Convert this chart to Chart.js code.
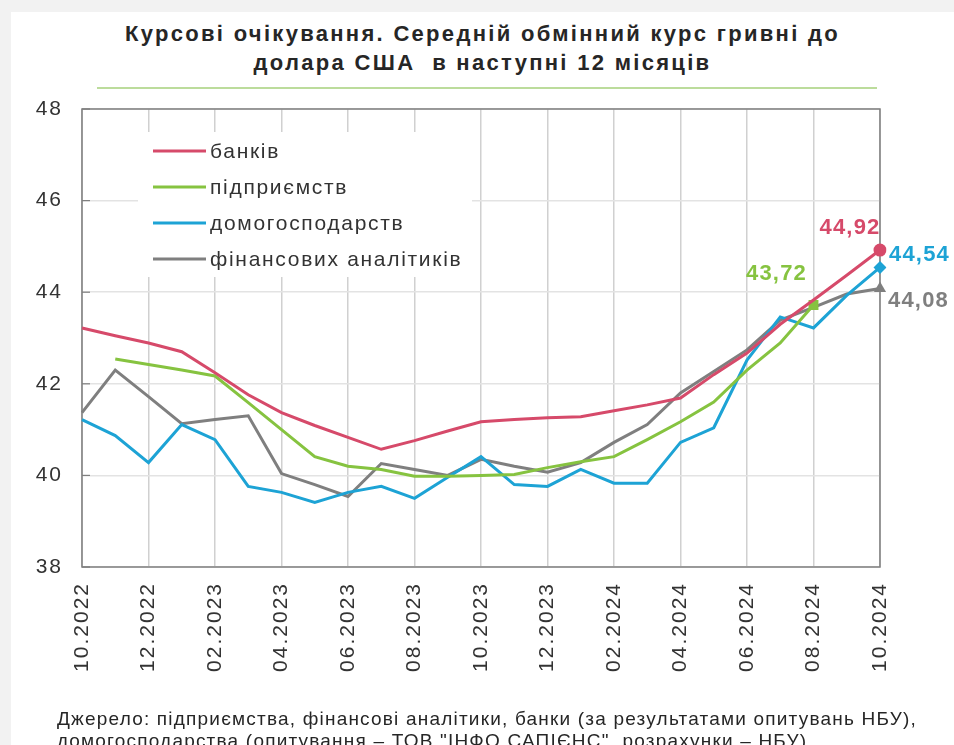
<!DOCTYPE html>
<html>
<head>
<meta charset="utf-8">
<script src="https://cdn.jsdelivr.net/npm/chart.js@4/dist/chart.umd.min.js"></script>
<style>
  html, body { margin:0; padding:0; }
  body { width:954px; height:745px; background:#f2f2f2; position:relative; overflow:hidden; font-family:"Liberation Sans", Arial, sans-serif; }
  #panel { position:absolute; left:11px; top:12px; right:0; bottom:0; background:#fff; }
  #title { position:absolute; left:11px; width:943px; top:19px; text-align:center; font-weight:bold; font-size:22px; line-height:29px; letter-spacing:2.3px; color:#262626; }
  #rule { position:absolute; left:97px; width:780px; top:87px; height:2px; background:#bcdc9c; }
  #src { position:absolute; left:57px; top:708px; font-size:19px; line-height:22px; letter-spacing:1.2px; color:#262626; white-space:nowrap; }
  #wrap { position:absolute; left:0; top:0; width:954px; height:745px; }
</style>
</head>
<body>
<div id="panel"></div>
<div id="title">Курсові очікування. Середній обмінний курс гривні до<br>долара США&nbsp; в наступні 12 місяців</div>
<div id="rule"></div>
<div id="wrap"><canvas id="c" width="954" height="745"></canvas></div>
<div id="src">Джерело: підприємства, фінансові аналітики, банки (за результатами опитувань НБУ),<br>домогосподарства (опитування – ТОВ "ІНФО САПІЄНС", розрахунки – НБУ).</div>
<script>
// Categories (months 10.2022 .. 10.2024)
const months = ['10.2022','11.2022','12.2022','01.2023','02.2023','03.2023','04.2023','05.2023','06.2023','07.2023','08.2023','09.2023','10.2023','11.2023','12.2023','01.2024','02.2024','03.2024','04.2024','05.2024','06.2024','07.2024','08.2024','09.2024','10.2024'];
// Series
const banks      = [43.22, 43.05, 42.89, 42.70, 42.24, 41.76, 41.37, 41.09, 40.83, 40.57, 40.76, 40.97, 41.17, 41.22, 41.26, 41.28, 41.41, 41.54, 41.69, 42.20, 42.67, 43.30, 43.83, 44.37, 44.92];
const enterprises= [null, 42.54, 42.42, 42.30, 42.17, 41.59, 41.00, 40.41, 40.20, 40.13, 39.98, 39.98, 40.00, 40.02, 40.17, 40.30, 40.41, 40.78, 41.17, 41.60, 42.30, 42.89, 43.72, null, null];
const households = [41.22, 40.87, 40.28, 41.11, 40.78, 39.76, 39.63, 39.41, 39.63, 39.76, 39.50, 39.96, 40.41, 39.80, 39.76, 40.13, 39.83, 39.83, 40.72, 41.04, 42.52, 43.46, 43.22, 43.93, 44.54];
const analysts   = [41.37, 42.30, 41.72, 41.13, 41.22, 41.30, 40.04, 39.80, 39.54, 40.26, 40.13, 40.00, 40.35, 40.20, 40.07, 40.28, 40.72, 41.11, 41.80, 42.27, 42.74, 43.39, 43.67, 43.96, 44.08];
const seriesNames = ['банків','підприємств','домогосподарств','фінансових аналітиків'];
// Y axis ticks
const yTicks = [38, 40, 42, 44, 46, 48];

const colors = { red:'#d64a6a', green:'#86c340', blue:'#1da3d5', gray:'#7f7f7f' };

function lastIdx(arr){ for (let i=arr.length-1;i>=0;i--) if (arr[i]!==null) return i; return -1; }

function mkDs(label, data, color, style, radius, lab){
  const li = lastIdx(data);
  return {
    label, data, borderColor: color, backgroundColor: color, borderWidth: 3,
    pointStyle: style,
    pointRadius: c => c.dataIndex === li ? radius : 0,
    pointHoverRadius: 0,
    pointBorderWidth: 0,
    tension: 0, spanGaps: false,
    endLabel: lab
  };
}

const datasets = [
  mkDs(seriesNames[0], banks, colors.red, 'circle', 6.5, {dx:-30, dy:-22, align:'center'}),
  mkDs(seriesNames[1], enterprises, colors.green, 'rect', 7, {dx:-37, dy:-31, align:'center'}),
  mkDs(seriesNames[2], households, colors.blue, 'rectRot', 6.5, {dx:9, dy:-13, align:'left'}),
  mkDs(seriesNames[3], analysts, colors.gray, 'triangle', 7, {dx:8, dy:12, align:'left'})
];

const spacing = {
  id:'spacing',
  beforeDraw(chart){ chart.ctx.letterSpacing = '2px'; },
  beforeDatasetsDraw(chart){ chart.ctx.letterSpacing = '0px'; }
};

const legendBox = {
  id:'legendBox',
  beforeDatasetsDraw(chart){
    const ctx = chart.ctx, a = chart.chartArea;
    ctx.save();
    ctx.fillStyle = '#fff';
    ctx.fillRect(138, 132, 334, 145);
    // frame
    ctx.strokeStyle = '#7f7f7f'; ctx.lineWidth = 1.5;
    ctx.strokeRect(a.left, a.top, a.right - a.left, a.bottom - a.top);
    // small inner ticks on y axis
    const ys = chart.scales.y;
    ctx.lineWidth = 1.2;
    yTicks.forEach(v => { const py = ys.getPixelForValue(v); ctx.beginPath(); ctx.moveTo(a.left, py); ctx.lineTo(a.left + 8, py); ctx.stroke(); });
    // legend entries
    ctx.font = '21px "Liberation Sans", Arial, sans-serif';
    ctx.letterSpacing = '1.7px';
    ctx.textBaseline = 'middle';
    chart.data.datasets.forEach((ds, i) => {
      const y = 151 + i * 36;
      ctx.strokeStyle = ds.borderColor; ctx.lineWidth = 3;
      ctx.beginPath(); ctx.moveTo(153, y); ctx.lineTo(206, y); ctx.stroke();
      ctx.fillStyle = '#333';
      ctx.fillText(ds.label, 210, y + 1);
    });
    ctx.restore();
  }
};

const endLabels = {
  id:'endLabels',
  afterDatasetsDraw(chart){
    const ctx = chart.ctx;
    ctx.save();
    ctx.font = 'bold 22px "Liberation Sans", Arial, sans-serif';
    ctx.letterSpacing = '1.2px';
    ctx.textBaseline = 'middle';
    chart.data.datasets.forEach((ds, i) => {
      const li = lastIdx(ds.data);
      const el = chart.getDatasetMeta(i).data[li];
      ctx.fillStyle = ds.borderColor;
      ctx.textAlign = ds.endLabel.align;
      ctx.fillText(ds.data[li].toFixed(2).replace('.', ','), el.x + ds.endLabel.dx, el.y + ds.endLabel.dy);
    });
    ctx.restore();
  }
};

new Chart(document.getElementById('c'), {
  type:'line',
  data:{ labels: months, datasets },
  plugins:[spacing, legendBox, endLabels],
  options:{
    responsive:false, animation:false, events:[],
    layout:{ padding:{ top:109, left:10, right:74, bottom:58 } },
    plugins:{ legend:{display:false}, tooltip:{enabled:false}, title:{display:false} },
    scales:{
      x:{
        offset:false,
        grid:{ color:'#d0d0d0', lineWidth:1.5, drawTicks:false },
        border:{ display:false },
        ticks:{
          autoSkip:false, maxRotation:90, minRotation:90, padding:15,
          color:'#333', font:{ family:'"Liberation Sans", Arial, sans-serif', size:21 },
          callback:(v,i) => i % 2 === 0 ? months[i] : null
        },
        afterFit: s => { s.height = 120; }
      },
      y:{
        min:38, max:48,
        afterBuildTicks: s => { s.ticks = yTicks.map(v => ({value:v})); },
        grid:{ color:'#e3e3e3', lineWidth:1.5, drawTicks:false },
        border:{ display:false },
        ticks:{ padding:19, color:'#333', font:{ family:'"Liberation Sans", Arial, sans-serif', size:21 } },
        afterFit: s => { s.width = 72; }
      }
    }
  }
});
</script>
</body>
</html>
